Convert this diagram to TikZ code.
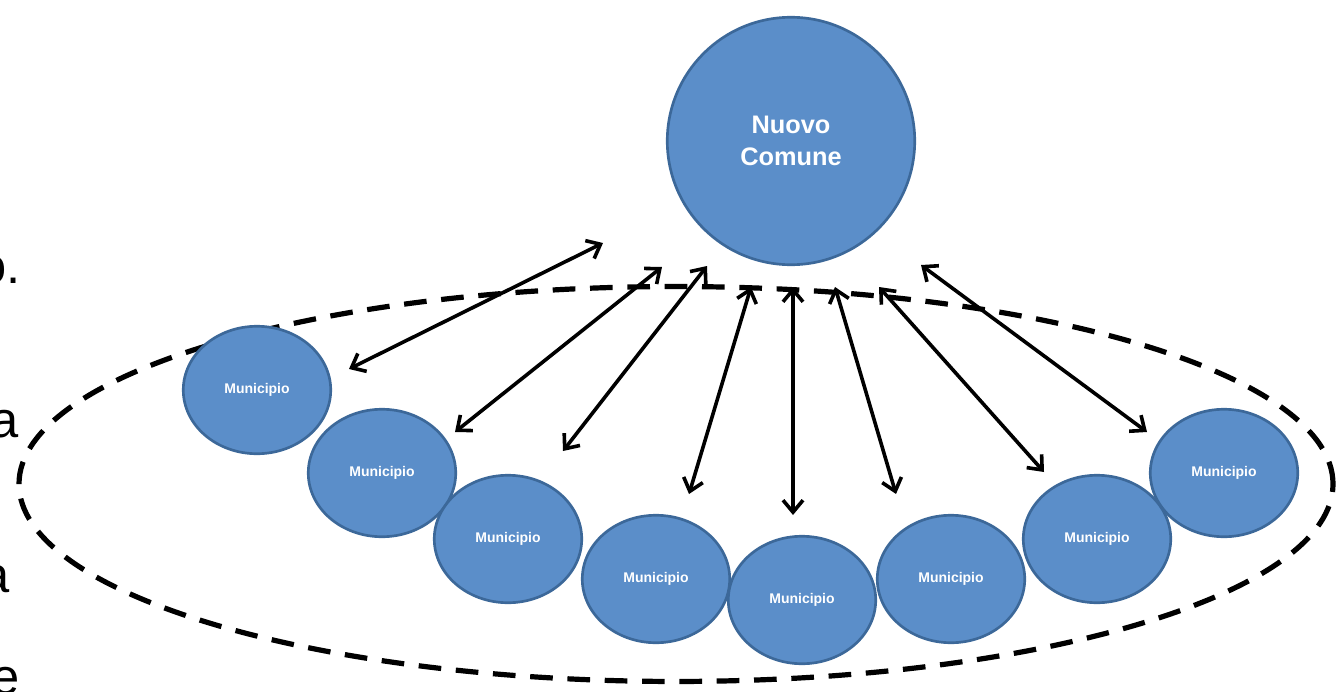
\documentclass[tikz,border=0pt]{standalone}
\usepackage{fontspec}
\setmainfont{Liberation Sans}
\usetikzlibrary{arrows.meta,shapes.geometric}
\definecolor{discfill}{RGB}{91,142,201}
\definecolor{discline}{RGB}{60,104,153}
\begin{document}
\begin{tikzpicture}[x=0.75pt,y=-0.75pt,
  disc/.style={ellipse,draw=discline,fill=discfill,line width=2pt,inner sep=0pt,
    text=white,font=\bfseries},
  muni/.style={disc,minimum width=110.6pt,minimum height=95.6pt,
    font=\fontsize{10.5}{12}\selectfont\bfseries},
  hub/.style={disc,minimum width=185.6pt,minimum height=185.6pt,align=center,
    font=\fontsize{19}{24}\selectfont\bfseries},
  ring/.style={ellipse,draw=black,line width=3.9pt,dash pattern=on 17pt off 11pt,
    minimum width=985.5pt,minimum height=296.2pt,inner sep=0pt},
  link/.style={line width=2.7pt,
    {Straight Barb[length=9pt,width=15pt]}-{Straight Barb[length=9pt,width=15pt]}},
  edgetext/.style={anchor=base east,inner sep=0pt,font=\fontsize{38}{40}\selectfont}]
\useasboundingbox (0,0) rectangle (1338,692);

% letters of the neighbouring text column, cut by the left margin
\node[edgetext] (l1) at (21,283) {o.};
\node[edgetext] (l2) at (19,437) {a};
\node[edgetext] (l3) at (10,592) {a};
\node[edgetext] (l4) at (20,694) {e};

% dashed boundary
\node[ring] (ring) at (676,484) {};

% central body
\node[hub] (hub) at (791,141) {Nuovo\\Comune};

% municipalities along the arc
\node[muni] (m1) at (257,390) {Municipio};
\node[muni] (m2) at (382,473) {Municipio};
\node[muni] (m3) at (508,539) {Municipio};
\node[muni] (m4) at (656,579) {Municipio};
\node[muni] (m5) at (802,600) {Municipio};
\node[muni] (m6) at (951,579) {Municipio};
\node[muni] (m7) at (1097,539) {Municipio};
\node[muni] (m8) at (1224,473) {Municipio};

% arrow ends near the hub
\coordinate (t1) at (603,243);
\coordinate (t2) at (662,267);
\coordinate (t3) at (707,266);
\coordinate (t4) at (751,287);
\coordinate (t5) at (793,287);
\coordinate (t6) at (835,287);
\coordinate (t7) at (879,287);
\coordinate (t8) at (921,265);
% arrow ends near the municipalities
\coordinate (b1) at (349,369);
\coordinate (b2) at (455,432);
\coordinate (b3) at (563,451);
\coordinate (b4) at (689,494);
\coordinate (b5) at (793,515);
\coordinate (b6) at (896,494);
\coordinate (b7) at (1044,472);
\coordinate (b8) at (1147,432);

\foreach \i in {1,...,8} \draw[link] (t\i) -- (b\i);
\end{tikzpicture}
\end{document}
